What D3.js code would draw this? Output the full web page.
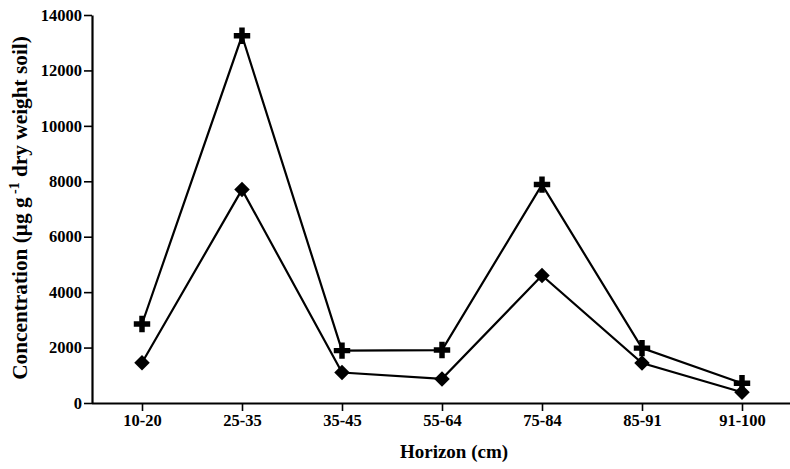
<!DOCTYPE html>
<html>
<head>
<meta charset="utf-8">
<script src="https://cdn.jsdelivr.net/npm/d3@7"></script>
<style>
  html, body { margin: 0; padding: 0; background: #fff; }
  svg { display: block; }
  text { font-family: "Liberation Serif", "DejaVu Serif", serif; fill: #000; }
</style>
</head>
<body>
<svg id="chart" width="790" height="469"></svg>
<script>
// ---- Data ----
const categories = ["10-20", "25-35", "35-45", "55-64", "75-84", "85-91", "91-100"];
const seriesCross = [2850, 13250, 1890, 1910, 7880, 1980, 710];
const seriesDiamond = [1450, 7700, 1100, 870, 4600, 1440, 390];
const yTicks = [0, 2000, 4000, 6000, 8000, 10000, 12000, 14000];

(function () {
const svg = d3.select("#chart");
const mLeft = 92, mRight = 792, mTop = 15, mBottom = 403;

const x = d3.scalePoint().domain(categories).range([mLeft, mRight]).padding(0.5);
const y = d3.scaleLinear().domain([0, 14000]).range([mBottom, mTop]);

// X axis
const gx = svg.append("g").attr("transform", `translate(0,${mBottom})`)
  .call(d3.axisBottom(x).tickSize(8).tickSizeOuter(0).tickPadding(3));
gx.select(".domain").attr("stroke-width", 2.2).attr("d", `M${mLeft},0.5H790`);
gx.selectAll(".tick line").attr("stroke-width", 1.6);
gx.selectAll(".tick text").style("font-size", "16.5px").style("font-weight", "bold");

// Y axis
const gy = svg.append("g").attr("transform", `translate(${mLeft},0)`)
  .call(d3.axisLeft(y).tickValues(yTicks).tickFormat(d3.format("d")).tickSize(8).tickSizeOuter(0).tickPadding(2));
gy.select(".domain").attr("stroke-width", 2.2);
gy.selectAll(".tick line").attr("stroke-width", 1.6);
gy.selectAll(".tick text").style("font-size", "16.5px").style("font-weight", "bold");

// Lines
const line = d3.line().x((d, i) => x(categories[i])).y(d => y(d));
[seriesCross, seriesDiamond].forEach(s => {
  svg.append("path").datum(s).attr("d", line)
    .attr("fill", "none").attr("stroke", "#000").attr("stroke-width", 2.2)
    .attr("stroke-linejoin", "miter");
});

// Markers
svg.append("g").selectAll("path").data(seriesCross).join("path")
  .attr("d", d3.symbol().type(d3.symbolCross).size(150))
  .attr("transform", (d, i) => `translate(${x(categories[i])},${y(d)})`)
  .attr("fill", "#000");

svg.append("g").selectAll("path").data(seriesDiamond).join("path")
  .attr("d", d3.symbol().type(d3.symbolSquare).size(120))
  .attr("transform", (d, i) => `translate(${x(categories[i])},${y(d)}) rotate(45)`)
  .attr("fill", "#000");

// Axis titles
svg.append("text").attr("x", 454).attr("y", 458).attr("text-anchor", "middle")
  .style("font-size", "19px").style("font-weight", "bold").text("Horizon (cm)");

const yt = svg.append("text").attr("transform", "translate(27,208) rotate(-90)")
  .attr("text-anchor", "middle").style("font-size", "21.3px").style("font-weight", "bold");
yt.append("tspan").text("Concentration (\u03BCg g");
yt.append("tspan").attr("dy", -8).style("font-size", "14px").text(" -1");
yt.append("tspan").attr("dy", 8).text(" dry weight soil)");
})();
</script>
</body>
</html>
